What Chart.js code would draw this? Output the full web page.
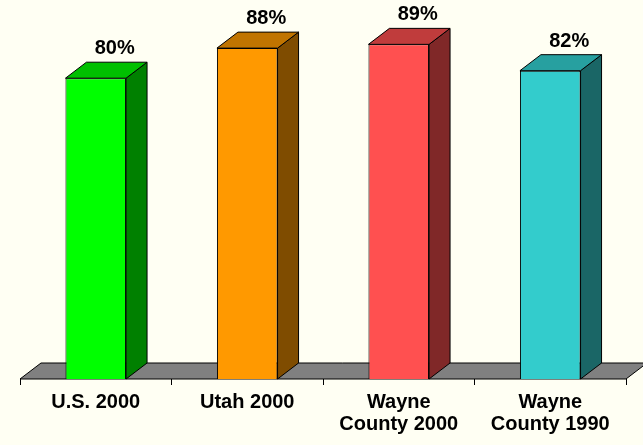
<!DOCTYPE html>
<html>
<head>
<meta charset="utf-8">
<script src="https://cdn.jsdelivr.net/npm/chart.js@4.4.1/dist/chart.umd.min.js"></script>
<style>
  html, body { margin: 0; padding: 0; background: #FFFFF3; }
  canvas { display: block; }
</style>
</head>
<body>
<canvas id="grafica" width="643" height="445"></canvas>
<script>
// datos del grafico
const categorias = ['U.S. 2000', 'Utah 2000', ['Wayne', 'County 2000'], ['Wayne', 'County 1990']];
const valores = [80, 88, 89, 82];
const etiquetas = ['80%', '88%', '89%', '82%'];

// colores: frente, arriba, lado
const colorFrente = ['#00FF00', '#FF9900', '#FF5050', '#33CCCC'];
const colorArriba = ['#00C000', '#C07400', '#C03C3C', '#27A0A0'];
const colorLado = ['#008000', '#7F4C00', '#802828', '#1A6666'];

const DX = 21; // profundidad en x
const DY = -16; // profundidad en y

function poligono(ctx, pts, fill) {
    ctx.beginPath();
    ctx.moveTo(pts[0][0], pts[0][1]);
    for (let i = 1; i < pts.length; i++) ctx.lineTo(pts[i][0], pts[i][1]);
    ctx.closePath();
    ctx.fillStyle = fill;
    ctx.fill();
    ctx.stroke();
}

const barras3d = {
    id: 'barras3d',
    beforeDatasetsDraw(chart) {
        // piso gris
        const ctx = chart.ctx;
        const x = chart.scales.x;
        const y0 = chart.scales.y.getPixelForValue(0);
        ctx.save();
        ctx.strokeStyle = '#000';
        ctx.lineWidth = 1;
        poligono(ctx, [
            [x.left, y0], [x.right, y0],
            [x.right + DX, y0 + DY], [x.left + DX, y0 + DY]
        ], '#808080');
        ctx.restore();
    },
    afterDatasetsDraw(chart) {
        const ctx = chart.ctx;
        const meta = chart.getDatasetMeta(0);
        ctx.save();
        ctx.strokeStyle = '#000';
        ctx.lineWidth = 1;
        meta.data.forEach((bar, i) => {
            const p = bar.getProps(['x', 'y', 'base', 'width'], true);
            const l = p.x - p.width / 2;
            const r = p.x + p.width / 2;
            // lado derecho
            poligono(ctx, [
                [r, p.y], [r + DX, p.y + DY], [r + DX, p.base + DY], [r, p.base]
            ], colorLado[i]);
            // cara de arriba
            poligono(ctx, [
                [l, p.y], [l + DX, p.y + DY], [r + DX, p.y + DY], [r, p.y]
            ], colorArriba[i]);
            // etiqueta de valor
            ctx.fillStyle = '#000';
            ctx.font = 'bold 20px "Liberation Sans", Arial, sans-serif';
            ctx.textAlign = 'center';
            ctx.textBaseline = 'alphabetic';
            ctx.fillText(etiquetas[i], p.x + 19, p.y + DY - 8);
        });
        ctx.restore();
    }
};

const ctx = document.getElementById('grafica').getContext('2d');
new Chart(ctx, {
    type: 'bar',
    data: {
        labels: categorias,
        datasets: [{
            data: valores,
            backgroundColor: colorFrente,
            borderColor: '#000',
            borderWidth: 1,
            barPercentage: 0.4,
            categoryPercentage: 1
        }]
    },
    options: {
        responsive: false,
        animation: false,
        layout: { padding: { left: 20, right: 17, top: 3, bottom: 0 } },
        plugins: {
            legend: { display: false },
            tooltip: { enabled: false }
        },
        scales: {
            x: {
                afterFit: s => { s.height = 66; },
                border: { display: false },
                grid: {
                    display: true,
                    drawOnChartArea: false,
                    drawTicks: true,
                    tickLength: 6,
                    color: '#000'
                },
                ticks: {
                    color: '#000',
                    padding: 6,
                    maxRotation: 0,
                    font: { family: '"Liberation Sans", Arial, sans-serif', size: 20, weight: 'bold', lineHeight: 1.1 }
                }
            },
            y: {
                display: false,
                min: 0,
                max: 100
            }
        }
    },
    plugins: [barras3d]
});
</script>
</body>
</html>
